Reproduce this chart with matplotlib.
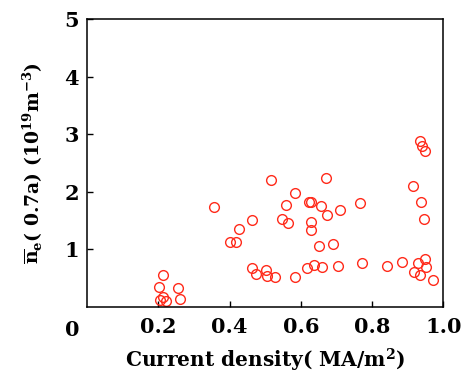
import matplotlib
matplotlib.use("Agg")
import matplotlib.pyplot as plt

# Current density (MA/m^2) and line averaged density (10^19 m^-3)
current_density = [
    0.212, 0.202, 0.204, 0.214, 0.221, 0.256, 0.260,
    0.355, 0.401, 0.418, 0.427, 0.463,
    0.464, 0.474, 0.502, 0.505, 0.528,
    0.516, 0.546, 0.558, 0.564, 0.583, 0.583,
    0.616, 0.622, 0.628, 0.628, 0.628, 0.638,
    0.652, 0.656, 0.660, 0.669, 0.673, 0.691,
    0.710, 0.705, 0.767, 0.772, 0.841, 0.883,
    0.914, 0.934, 0.939, 0.947, 0.937, 0.944,
    0.928, 0.949, 0.951, 0.916, 0.934, 0.970,
]
density = [
    0.557, 0.342, 0.12, 0.18, 0.11, 0.336, 0.14,
    1.73, 1.12, 1.12, 1.357, 1.513,
    0.673, 0.574, 0.643, 0.539, 0.527,
    2.197, 1.536, 1.774, 1.466, 1.977, 0.527,
    0.673, 1.83, 1.83, 1.484, 1.339, 0.73,
    1.061, 1.762, 0.70, 2.238, 1.60, 1.096,
    1.687, 0.719, 1.803, 0.759, 0.719, 0.777,
    2.093, 2.875, 2.79, 2.70, 1.83, 1.53,
    0.76, 0.83, 0.70, 0.614, 0.557, 0.47,
]

x_ticks = [0.2, 0.4, 0.6, 0.8, 1.0]
x_tick_labels = ["0.2", "0.4", "0.6", "0.8", "1.0"]
y_ticks = [1, 2, 3, 4, 5]
y_tick_labels = ["1", "2", "3", "4", "5"]

plt.rcParams["font.family"] = "DejaVu Serif"
plt.rcParams["font.weight"] = "bold"
plt.rcParams["mathtext.fontset"] = "custom"
plt.rcParams["mathtext.rm"] = "DejaVu Serif:bold"
plt.rcParams["mathtext.bf"] = "DejaVu Serif:bold"
plt.rcParams["mathtext.it"] = "DejaVu Serif:bold"

fig = plt.figure(figsize=(4.61, 3.85), dpi=100)
ax = fig.add_axes([0.189, 0.2026, 0.773, 0.748])

ax.plot(current_density, density, linestyle="none", marker="o",
        markersize=7, markerfacecolor="none", markeredgecolor="#ff2a1a",
        markeredgewidth=1.0)

ax.set_xlim(0, 1.0)
ax.set_ylim(0, 5)
ax.set_xticks(x_ticks)
ax.set_xticklabels(x_tick_labels)
ax.set_yticks(y_ticks)
ax.set_yticklabels(y_tick_labels)
ax.tick_params(axis="both", direction="in", length=4, width=1, labelsize=15)
ax.tick_params(axis="x", pad=7)
ax.tick_params(axis="y", pad=6)
for s in ax.spines.values():
    s.set_linewidth(1.1)

# shared zero label at the corner
ax.text(-0.042, -0.08, "0", transform=ax.transAxes, ha="center", va="center",
        fontsize=15, fontweight="bold")

ax.set_xlabel(r"Current density( MA/m$^{2}$)", fontsize=14.5, fontweight="bold",
              labelpad=7)
ax.set_ylabel(r"$\overline{\rm n}_{\rm e}$( 0.7a) (10$^{19}$m$^{-3}$)",
              fontsize=13.5, fontweight="bold", labelpad=14)

fig.savefig("out.png", dpi=100)
